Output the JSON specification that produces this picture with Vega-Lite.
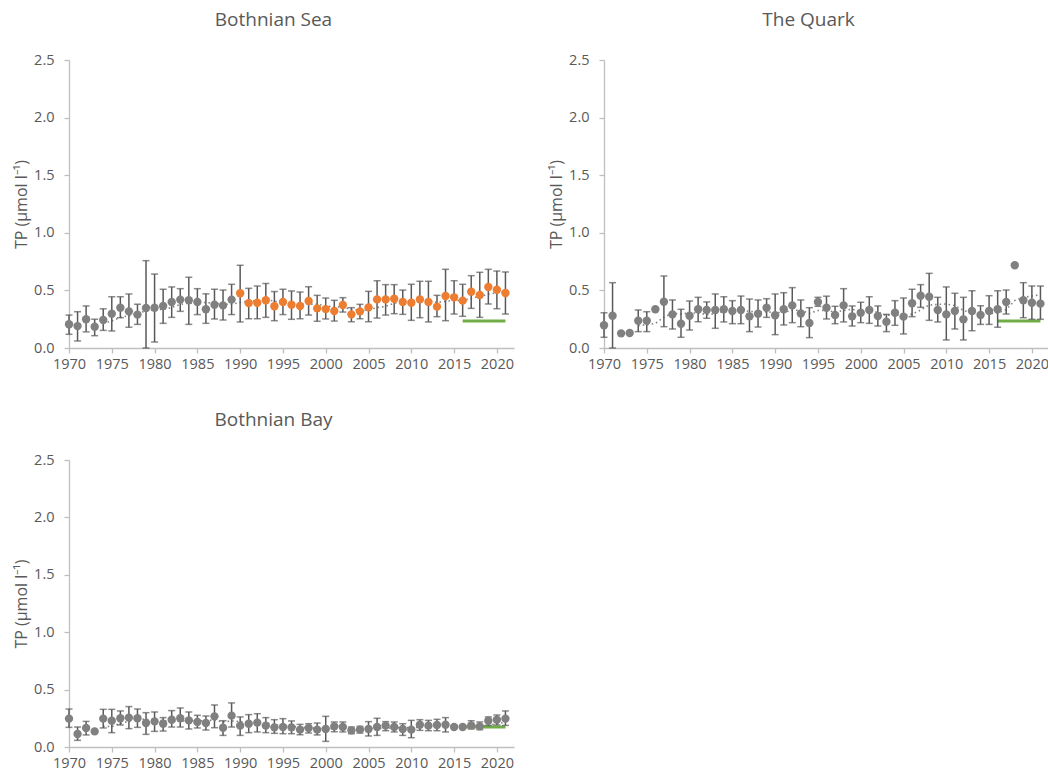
{
  "$schema": "https://vega.github.io/schema/vega-lite/v6.json",
  "background": "white",
  "padding": {"left": 13, "top": 11, "right": 0, "bottom": 0},
  "config": {
    "font": "Open Sans",
    "view": {"stroke": null},
    "axis": {"grid": false, "domainColor": "#BFBFBF", "tickColor": "#BFBFBF", "labelColor": "#595959", "titleColor": "#595959", "labelFont": "Open Sans", "titleFont": "Open Sans", "labelFontSize": 14.5, "titleFontSize": 16, "titleFontWeight": "normal", "tickSize": 5, "domainWidth": 1.3, "tickWidth": 1.3},
    "title": {"fontSize": 19, "fontWeight": "normal", "color": "#595959", "font": "Open Sans"}
  },
  "datasets": {
    "sea": [
      {"year":1970,"tp":0.206,"lo":0.119,"hi":0.286,"series":"other"},
      {"year":1971,"tp":0.19,"lo":0.061,"hi":0.315,"series":"other"},
      {"year":1972,"tp":0.25,"lo":0.14,"hi":0.365,"series":"other"},
      {"year":1973,"tp":0.185,"lo":0.107,"hi":0.25,"series":"other"},
      {"year":1974,"tp":0.243,"lo":0.153,"hi":0.34,"trend":0.216,"series":"other"},
      {"year":1975,"tp":0.298,"lo":0.148,"hi":0.445,"trend":0.234,"series":"other"},
      {"year":1976,"tp":0.35,"lo":0.263,"hi":0.445,"trend":0.266,"series":"other"},
      {"year":1977,"tp":0.318,"lo":0.18,"hi":0.469,"trend":0.28,"series":"other"},
      {"year":1978,"tp":0.29,"lo":0.205,"hi":0.38,"trend":0.301,"series":"other"},
      {"year":1979,"tp":0.347,"lo":0.0,"hi":0.758,"trend":0.322,"series":"other"},
      {"year":1980,"tp":0.35,"lo":0.052,"hi":0.642,"trend":0.332,"series":"other"},
      {"year":1981,"tp":0.365,"lo":0.214,"hi":0.51,"trend":0.335,"series":"other"},
      {"year":1982,"tp":0.4,"lo":0.266,"hi":0.53,"trend":0.351,"series":"other"},
      {"year":1983,"tp":0.42,"lo":0.318,"hi":0.515,"trend":0.377,"series":"other"},
      {"year":1984,"tp":0.414,"lo":0.205,"hi":0.614,"trend":0.39,"series":"other"},
      {"year":1985,"tp":0.4,"lo":0.29,"hi":0.515,"trend":0.4,"series":"other"},
      {"year":1986,"tp":0.336,"lo":0.214,"hi":0.47,"trend":0.394,"series":"other"},
      {"year":1987,"tp":0.376,"lo":0.252,"hi":0.51,"trend":0.389,"series":"other"},
      {"year":1988,"tp":0.37,"lo":0.243,"hi":0.503,"trend":0.379,"series":"other"},
      {"year":1989,"tp":0.42,"lo":0.29,"hi":0.553,"trend":0.38,"series":"other"},
      {"year":1990,"tp":0.475,"lo":0.226,"hi":0.718,"trend":0.395,"series":"highlight"},
      {"year":1991,"tp":0.39,"lo":0.254,"hi":0.518,"trend":0.406,"series":"highlight"},
      {"year":1992,"tp":0.393,"lo":0.254,"hi":0.538,"trend":0.41,"series":"highlight"},
      {"year":1993,"tp":0.414,"lo":0.266,"hi":0.56,"trend":0.419,"series":"highlight"},
      {"year":1994,"tp":0.362,"lo":0.237,"hi":0.49,"trend":0.407,"series":"highlight"},
      {"year":1995,"tp":0.4,"lo":0.29,"hi":0.51,"trend":0.392,"series":"highlight"},
      {"year":1996,"tp":0.376,"lo":0.249,"hi":0.495,"trend":0.389,"series":"highlight"},
      {"year":1997,"tp":0.365,"lo":0.254,"hi":0.486,"trend":0.383,"series":"highlight"},
      {"year":1998,"tp":0.408,"lo":0.286,"hi":0.532,"trend":0.382,"series":"highlight"},
      {"year":1999,"tp":0.344,"lo":0.232,"hi":0.457,"trend":0.379,"series":"highlight"},
      {"year":2000,"tp":0.338,"lo":0.252,"hi":0.434,"trend":0.367,"series":"highlight"},
      {"year":2001,"tp":0.321,"lo":0.234,"hi":0.414,"trend":0.356,"series":"highlight"},
      {"year":2002,"tp":0.373,"lo":0.312,"hi":0.437,"trend":0.357,"series":"highlight"},
      {"year":2003,"tp":0.292,"lo":0.228,"hi":0.35,"trend":0.333,"series":"highlight"},
      {"year":2004,"tp":0.318,"lo":0.254,"hi":0.379,"trend":0.328,"series":"highlight"},
      {"year":2005,"tp":0.353,"lo":0.228,"hi":0.492,"trend":0.331,"series":"highlight"},
      {"year":2006,"tp":0.422,"lo":0.26,"hi":0.584,"trend":0.351,"series":"highlight"},
      {"year":2007,"tp":0.422,"lo":0.286,"hi":0.55,"trend":0.361,"series":"highlight"},
      {"year":2008,"tp":0.428,"lo":0.298,"hi":0.55,"trend":0.389,"series":"highlight"},
      {"year":2009,"tp":0.4,"lo":0.292,"hi":0.503,"trend":0.405,"series":"highlight"},
      {"year":2010,"tp":0.393,"lo":0.24,"hi":0.553,"trend":0.413,"series":"highlight"},
      {"year":2011,"tp":0.422,"lo":0.263,"hi":0.579,"trend":0.413,"series":"highlight"},
      {"year":2012,"tp":0.4,"lo":0.226,"hi":0.579,"trend":0.409,"series":"highlight"},
      {"year":2013,"tp":0.359,"lo":0.272,"hi":0.457,"trend":0.395,"series":"highlight"},
      {"year":2014,"tp":0.451,"lo":0.237,"hi":0.683,"trend":0.405,"series":"highlight"},
      {"year":2015,"tp":0.44,"lo":0.295,"hi":0.584,"trend":0.414,"series":"highlight"},
      {"year":2016,"tp":0.411,"lo":0.275,"hi":0.553,"trend":0.412,"target":0.235,"series":"highlight"},
      {"year":2017,"tp":0.489,"lo":0.344,"hi":0.628,"trend":0.43,"target":0.235,"series":"highlight"},
      {"year":2018,"tp":0.46,"lo":0.266,"hi":0.657,"trend":0.45,"target":0.235,"series":"highlight"},
      {"year":2019,"tp":0.53,"lo":0.382,"hi":0.683,"trend":0.466,"target":0.235,"series":"highlight"},
      {"year":2020,"tp":0.506,"lo":0.341,"hi":0.668,"trend":0.479,"target":0.235,"series":"highlight"},
      {"year":2021,"tp":0.477,"lo":0.295,"hi":0.66,"trend":0.493,"target":0.235,"series":"highlight"}
    ],
    "quark": [
      {"year":1970,"tp":0.197,"lo":0.093,"hi":0.306,"series":"other"},
      {"year":1971,"tp":0.28,"lo":0.0,"hi":0.567,"series":"other"},
      {"year":1972,"tp":0.127,"series":"other"},
      {"year":1973,"tp":0.13,"series":"other"},
      {"year":1974,"tp":0.237,"lo":0.142,"hi":0.33,"trend":0.195,"series":"other"},
      {"year":1975,"tp":0.237,"lo":0.142,"hi":0.315,"trend":0.202,"series":"other"},
      {"year":1976,"tp":0.336,"trend":0.213,"series":"other"},
      {"year":1977,"tp":0.402,"lo":0.185,"hi":0.625,"trend":0.268,"series":"other"},
      {"year":1978,"tp":0.292,"lo":0.165,"hi":0.417,"trend":0.301,"series":"other"},
      {"year":1979,"tp":0.211,"lo":0.093,"hi":0.336,"trend":0.296,"series":"other"},
      {"year":1980,"tp":0.28,"lo":0.156,"hi":0.408,"trend":0.304,"series":"other"},
      {"year":1981,"tp":0.336,"lo":0.228,"hi":0.44,"trend":0.304,"series":"other"},
      {"year":1982,"tp":0.33,"lo":0.258,"hi":0.4,"trend":0.29,"series":"other"},
      {"year":1983,"tp":0.33,"lo":0.171,"hi":0.469,"trend":0.297,"series":"other"},
      {"year":1984,"tp":0.336,"lo":0.226,"hi":0.445,"trend":0.322,"series":"other"},
      {"year":1985,"tp":0.321,"lo":0.211,"hi":0.411,"trend":0.331,"series":"other"},
      {"year":1986,"tp":0.33,"lo":0.211,"hi":0.451,"trend":0.329,"series":"other"},
      {"year":1987,"tp":0.275,"lo":0.142,"hi":0.425,"trend":0.318,"series":"other"},
      {"year":1988,"tp":0.298,"lo":0.182,"hi":0.417,"trend":0.312,"series":"other"},
      {"year":1989,"tp":0.35,"lo":0.266,"hi":0.428,"trend":0.315,"series":"other"},
      {"year":1990,"tp":0.284,"lo":0.116,"hi":0.469,"trend":0.307,"series":"other"},
      {"year":1991,"tp":0.336,"lo":0.2,"hi":0.48,"trend":0.309,"series":"other"},
      {"year":1992,"tp":0.37,"lo":0.22,"hi":0.524,"trend":0.328,"series":"other"},
      {"year":1993,"tp":0.3,"lo":0.185,"hi":0.417,"trend":0.328,"series":"other"},
      {"year":1994,"tp":0.217,"lo":0.09,"hi":0.35,"trend":0.301,"series":"other"},
      {"year":1995,"tp":0.4,"lo":0.362,"hi":0.44,"trend":0.325,"series":"other"},
      {"year":1996,"tp":0.35,"lo":0.252,"hi":0.45,"trend":0.327,"series":"other"},
      {"year":1997,"tp":0.286,"lo":0.211,"hi":0.362,"trend":0.311,"series":"other"},
      {"year":1998,"tp":0.37,"lo":0.226,"hi":0.515,"trend":0.325,"series":"other"},
      {"year":1999,"tp":0.275,"lo":0.191,"hi":0.365,"trend":0.336,"series":"other"},
      {"year":2000,"tp":0.306,"lo":0.22,"hi":0.397,"trend":0.317,"series":"other"},
      {"year":2001,"tp":0.33,"lo":0.214,"hi":0.445,"trend":0.313,"series":"other"},
      {"year":2002,"tp":0.278,"lo":0.191,"hi":0.365,"trend":0.312,"series":"other"},
      {"year":2003,"tp":0.228,"lo":0.142,"hi":0.292,"trend":0.283,"series":"other"},
      {"year":2004,"tp":0.306,"lo":0.197,"hi":0.411,"trend":0.29,"series":"other"},
      {"year":2005,"tp":0.272,"lo":0.122,"hi":0.434,"trend":0.283,"series":"other"},
      {"year":2006,"tp":0.388,"lo":0.272,"hi":0.51,"trend":0.294,"series":"other"},
      {"year":2007,"tp":0.454,"lo":0.353,"hi":0.55,"trend":0.33,"series":"other"},
      {"year":2008,"tp":0.445,"lo":0.24,"hi":0.648,"trend":0.373,"series":"other"},
      {"year":2009,"tp":0.33,"lo":0.226,"hi":0.44,"trend":0.378,"series":"other"},
      {"year":2010,"tp":0.292,"lo":0.07,"hi":0.53,"trend":0.382,"series":"other"},
      {"year":2011,"tp":0.321,"lo":0.165,"hi":0.475,"trend":0.368,"series":"other"},
      {"year":2012,"tp":0.249,"lo":0.07,"hi":0.44,"trend":0.327,"series":"other"},
      {"year":2013,"tp":0.321,"lo":0.15,"hi":0.497,"trend":0.303,"series":"other"},
      {"year":2014,"tp":0.286,"lo":0.205,"hi":0.367,"trend":0.294,"series":"other"},
      {"year":2015,"tp":0.321,"lo":0.205,"hi":0.454,"trend":0.3,"series":"other"},
      {"year":2016,"tp":0.336,"lo":0.18,"hi":0.497,"trend":0.303,"target":0.235,"series":"other"},
      {"year":2017,"tp":0.4,"lo":0.295,"hi":0.503,"trend":0.333,"target":0.235,"series":"other"},
      {"year":2018,"tp":0.718,"trend":0.412,"target":0.235,"series":"other"},
      {"year":2019,"tp":0.414,"lo":0.263,"hi":0.567,"trend":0.438,"target":0.235,"series":"other"},
      {"year":2020,"tp":0.393,"lo":0.249,"hi":0.538,"trend":0.452,"target":0.235,"series":"other"},
      {"year":2021,"tp":0.385,"lo":0.249,"hi":0.538,"trend":0.462,"target":0.235,"series":"other"}
    ],
    "bay": [
      {"year":1970,"tp":0.247,"lo":0.171,"hi":0.331,"series":"other"},
      {"year":1971,"tp":0.113,"lo":0.058,"hi":0.174,"series":"other"},
      {"year":1972,"tp":0.166,"lo":0.105,"hi":0.223,"series":"other"},
      {"year":1973,"tp":0.136,"series":"other"},
      {"year":1974,"tp":0.247,"lo":0.166,"hi":0.328,"trend":0.182,"series":"other"},
      {"year":1975,"tp":0.229,"lo":0.125,"hi":0.328,"trend":0.178,"series":"other"},
      {"year":1976,"tp":0.25,"lo":0.192,"hi":0.314,"trend":0.206,"series":"other"},
      {"year":1977,"tp":0.256,"lo":0.16,"hi":0.352,"trend":0.224,"series":"other"},
      {"year":1978,"tp":0.25,"lo":0.171,"hi":0.331,"trend":0.246,"series":"other"},
      {"year":1979,"tp":0.209,"lo":0.11,"hi":0.299,"trend":0.239,"series":"other"},
      {"year":1980,"tp":0.223,"lo":0.136,"hi":0.305,"trend":0.238,"series":"other"},
      {"year":1981,"tp":0.203,"lo":0.139,"hi":0.256,"trend":0.228,"series":"other"},
      {"year":1982,"tp":0.238,"lo":0.174,"hi":0.317,"trend":0.225,"series":"other"},
      {"year":1983,"tp":0.25,"lo":0.174,"hi":0.34,"trend":0.225,"series":"other"},
      {"year":1984,"tp":0.232,"lo":0.157,"hi":0.305,"trend":0.229,"series":"other"},
      {"year":1985,"tp":0.218,"lo":0.166,"hi":0.276,"trend":0.228,"series":"other"},
      {"year":1986,"tp":0.209,"lo":0.148,"hi":0.27,"trend":0.229,"series":"other"},
      {"year":1987,"tp":0.267,"lo":0.168,"hi":0.366,"trend":0.235,"series":"other"},
      {"year":1988,"tp":0.168,"lo":0.101,"hi":0.229,"trend":0.219,"series":"other"},
      {"year":1989,"tp":0.273,"lo":0.174,"hi":0.384,"trend":0.227,"series":"other"},
      {"year":1990,"tp":0.186,"lo":0.101,"hi":0.262,"trend":0.221,"series":"other"},
      {"year":1991,"tp":0.203,"lo":0.125,"hi":0.282,"trend":0.219,"series":"other"},
      {"year":1992,"tp":0.212,"lo":0.131,"hi":0.29,"trend":0.208,"series":"other"},
      {"year":1993,"tp":0.186,"lo":0.125,"hi":0.256,"trend":0.212,"series":"other"},
      {"year":1994,"tp":0.171,"lo":0.119,"hi":0.238,"trend":0.192,"series":"other"},
      {"year":1995,"tp":0.174,"lo":0.116,"hi":0.247,"trend":0.189,"series":"other"},
      {"year":1996,"tp":0.171,"lo":0.116,"hi":0.227,"trend":0.183,"series":"other"},
      {"year":1997,"tp":0.151,"lo":0.107,"hi":0.197,"trend":0.171,"series":"other"},
      {"year":1998,"tp":0.166,"lo":0.122,"hi":0.203,"trend":0.167,"series":"other"},
      {"year":1999,"tp":0.151,"lo":0.105,"hi":0.209,"trend":0.163,"series":"other"},
      {"year":2000,"tp":0.157,"lo":0.049,"hi":0.267,"trend":0.159,"series":"other"},
      {"year":2001,"tp":0.18,"lo":0.133,"hi":0.218,"trend":0.161,"series":"other"},
      {"year":2002,"tp":0.174,"lo":0.131,"hi":0.218,"trend":0.166,"series":"other"},
      {"year":2003,"tp":0.145,"lo":0.116,"hi":0.174,"trend":0.161,"series":"other"},
      {"year":2004,"tp":0.151,"lo":0.122,"hi":0.18,"trend":0.161,"series":"other"},
      {"year":2005,"tp":0.157,"lo":0.096,"hi":0.221,"trend":0.161,"series":"other"},
      {"year":2006,"tp":0.174,"lo":0.101,"hi":0.25,"trend":0.16,"series":"other"},
      {"year":2007,"tp":0.186,"lo":0.142,"hi":0.221,"trend":0.163,"series":"other"},
      {"year":2008,"tp":0.174,"lo":0.131,"hi":0.218,"trend":0.168,"series":"other"},
      {"year":2009,"tp":0.157,"lo":0.101,"hi":0.203,"trend":0.17,"series":"other"},
      {"year":2010,"tp":0.151,"lo":0.081,"hi":0.232,"trend":0.168,"series":"other"},
      {"year":2011,"tp":0.194,"lo":0.145,"hi":0.238,"trend":0.172,"series":"other"},
      {"year":2012,"tp":0.186,"lo":0.142,"hi":0.232,"trend":0.172,"series":"other"},
      {"year":2013,"tp":0.192,"lo":0.142,"hi":0.241,"trend":0.176,"series":"other"},
      {"year":2014,"tp":0.194,"lo":0.131,"hi":0.256,"trend":0.183,"series":"other"},
      {"year":2015,"tp":0.174,"trend":0.188,"series":"other"},
      {"year":2016,"tp":0.174,"trend":0.184,"target":0.175,"series":"other"},
      {"year":2017,"tp":0.188,"lo":0.157,"hi":0.229,"trend":0.184,"target":0.175,"series":"other"},
      {"year":2018,"tp":0.18,"lo":0.151,"hi":0.218,"trend":0.182,"target":0.175,"series":"other"},
      {"year":2019,"tp":0.229,"lo":0.188,"hi":0.262,"trend":0.189,"target":0.175,"series":"other"},
      {"year":2020,"tp":0.238,"lo":0.192,"hi":0.279,"trend":0.202,"target":0.175,"series":"other"},
      {"year":2021,"tp":0.247,"lo":0.188,"hi":0.314,"trend":0.216,"target":0.175,"series":"other"}
    ]
  },
  "columns": 2,
  "spacing": {"row": 40, "column": 34},
  "concat": [
    {
      "title": {"text": "Bothnian Sea", "anchor": "middle", "frame": "group", "dx": -18, "offset": 22},
      "width": 445, "height": 288,
      "data": {"name": "sea"},
      "encoding": {"x": {"field": "year", "type": "quantitative", "scale": {"domain": [1970, 2022], "nice": false, "zero": false}, "axis": {"title": null, "values": [1970,1975,1980,1985,1990,1995,2000,2005,2010,2015,2020], "format": "d", "labelPadding": 4, "labelFlush": false}}},
      "layer": [
        {"mark": {"type": "line", "color": "#808080", "strokeWidth": 1.6, "strokeDash": [1.5, 3]}, "encoding": {"y": {"field": "trend", "type": "quantitative", "scale": {"domain": [0, 2.5], "nice": false}, "axis": {"title": "TP (µmol l⁻¹)", "values": [0,0.5,1,1.5,2,2.5], "format": ".1f", "labelPadding": 10, "titlePadding": 4}}}},
        {"mark": {"type": "line", "color": "#70AD47", "strokeWidth": 3}, "encoding": {"y": {"field": "target", "type": "quantitative"}}},
        {"mark": {"type": "rule", "color": "#595959", "strokeWidth": 1.5}, "encoding": {"y": {"field": "lo", "type": "quantitative"}, "y2": {"field": "hi"}}},
        {"mark": {"type": "tick", "orient": "horizontal", "color": "#595959", "size": 7, "thickness": 1.5}, "encoding": {"y": {"field": "lo", "type": "quantitative"}}},
        {"mark": {"type": "tick", "orient": "horizontal", "color": "#595959", "size": 7, "thickness": 1.5}, "encoding": {"y": {"field": "hi", "type": "quantitative"}}},
        {"mark": {"type": "circle", "size": 70, "opacity": 1}, "encoding": {"y": {"field": "tp", "type": "quantitative"}, "color": {"field": "series", "type": "nominal", "scale": {"domain": ["other", "highlight"], "range": ["#808080", "#ED7D31"]}, "legend": null}}}
      ]
    },
    {
      "title": {"text": "The Quark", "anchor": "middle", "frame": "group", "dx": -18, "offset": 22},
      "width": 445, "height": 288,
      "data": {"name": "quark"},
      "encoding": {"x": {"field": "year", "type": "quantitative", "scale": {"domain": [1970, 2022], "nice": false, "zero": false}, "axis": {"title": null, "values": [1970,1975,1980,1985,1990,1995,2000,2005,2010,2015,2020], "format": "d", "labelPadding": 4, "labelFlush": false}}},
      "layer": [
        {"mark": {"type": "line", "color": "#808080", "strokeWidth": 1.6, "strokeDash": [1.5, 3]}, "encoding": {"y": {"field": "trend", "type": "quantitative", "scale": {"domain": [0, 2.5], "nice": false}, "axis": {"title": "TP (µmol l⁻¹)", "values": [0,0.5,1,1.5,2,2.5], "format": ".1f", "labelPadding": 10, "titlePadding": 4}}}},
        {"mark": {"type": "line", "color": "#70AD47", "strokeWidth": 3}, "encoding": {"y": {"field": "target", "type": "quantitative"}}},
        {"mark": {"type": "rule", "color": "#595959", "strokeWidth": 1.5}, "encoding": {"y": {"field": "lo", "type": "quantitative"}, "y2": {"field": "hi"}}},
        {"mark": {"type": "tick", "orient": "horizontal", "color": "#595959", "size": 7, "thickness": 1.5}, "encoding": {"y": {"field": "lo", "type": "quantitative"}}},
        {"mark": {"type": "tick", "orient": "horizontal", "color": "#595959", "size": 7, "thickness": 1.5}, "encoding": {"y": {"field": "hi", "type": "quantitative"}}},
        {"mark": {"type": "circle", "size": 70, "opacity": 1}, "encoding": {"y": {"field": "tp", "type": "quantitative"}, "color": {"field": "series", "type": "nominal", "scale": {"domain": ["other", "highlight"], "range": ["#808080", "#ED7D31"]}, "legend": null}}}
      ]
    },
    {
      "title": {"text": "Bothnian Bay", "anchor": "middle", "frame": "group", "dx": -18, "offset": 22},
      "width": 445, "height": 287,
      "data": {"name": "bay"},
      "encoding": {"x": {"field": "year", "type": "quantitative", "scale": {"domain": [1970, 2022], "nice": false, "zero": false}, "axis": {"title": null, "values": [1970,1975,1980,1985,1990,1995,2000,2005,2010,2015,2020], "format": "d", "labelPadding": 4, "labelFlush": false}}},
      "layer": [
        {"mark": {"type": "line", "color": "#808080", "strokeWidth": 1.6, "strokeDash": [1.5, 3]}, "encoding": {"y": {"field": "trend", "type": "quantitative", "scale": {"domain": [0, 2.5], "nice": false}, "axis": {"title": "TP (µmol l⁻¹)", "values": [0,0.5,1,1.5,2,2.5], "format": ".1f", "labelPadding": 10, "titlePadding": 4}}}},
        {"mark": {"type": "line", "color": "#70AD47", "strokeWidth": 3}, "encoding": {"y": {"field": "target", "type": "quantitative"}}},
        {"mark": {"type": "rule", "color": "#595959", "strokeWidth": 1.5}, "encoding": {"y": {"field": "lo", "type": "quantitative"}, "y2": {"field": "hi"}}},
        {"mark": {"type": "tick", "orient": "horizontal", "color": "#595959", "size": 7, "thickness": 1.5}, "encoding": {"y": {"field": "lo", "type": "quantitative"}}},
        {"mark": {"type": "tick", "orient": "horizontal", "color": "#595959", "size": 7, "thickness": 1.5}, "encoding": {"y": {"field": "hi", "type": "quantitative"}}},
        {"mark": {"type": "circle", "size": 70, "opacity": 1}, "encoding": {"y": {"field": "tp", "type": "quantitative"}, "color": {"field": "series", "type": "nominal", "scale": {"domain": ["other", "highlight"], "range": ["#808080", "#ED7D31"]}, "legend": null}}}
      ]
    }
  ]
}
